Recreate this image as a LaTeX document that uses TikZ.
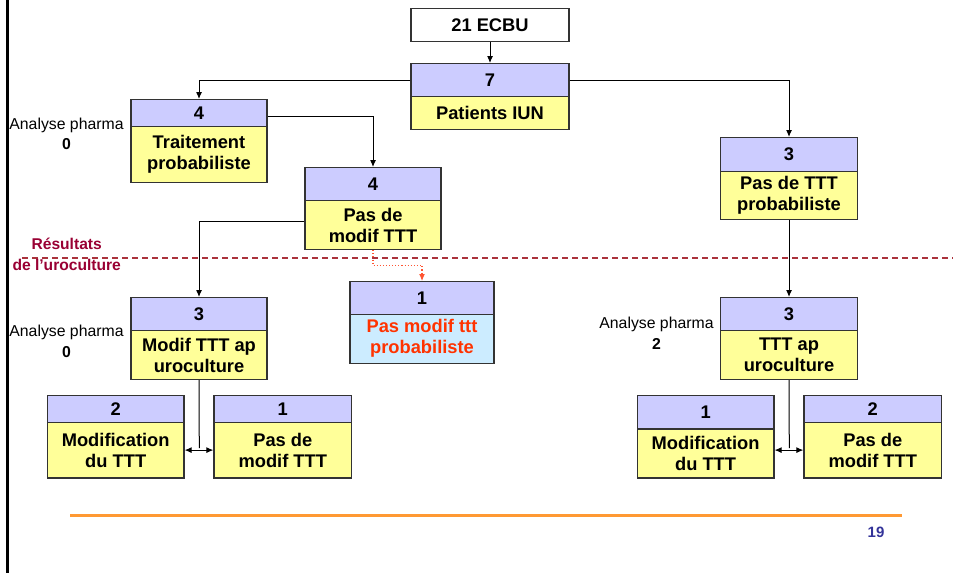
\documentclass[tikz,border=0pt]{standalone}
\usepackage{fontspec}
\setmainfont{Liberation Sans}
\usetikzlibrary{arrows.meta}
\definecolor{hdrblue}{HTML}{CCCCFF}
\definecolor{bodyyel}{HTML}{FFFF99}
\definecolor{bodyblue}{HTML}{CCECFF}
\definecolor{redtxt}{HTML}{FF3300}
\definecolor{dotred}{HTML}{FF5533}
\definecolor{sepred}{RGB}{170,50,60}
\definecolor{labred}{RGB}{153,0,51}
\definecolor{orangeline}{HTML}{FF9933}
\definecolor{pagenum}{HTML}{333399}
\definecolor{edge}{HTML}{333333}
\newcommand\twobox[9]{%
  \node[hdr, minimum width=#3pt, minimum height={(#5-#4)*1pt}, anchor=north] (#1h) at (#2,#4) {#7};
  \node[bdy, #9, minimum width=#3pt, minimum height={(#6-#5)*1pt}, anchor=north] (#1b) at (#2,#5) {#8};
}
\tikzset{
  boxbase/.style={draw=edge, line width=1.2pt, inner sep=0pt, align=center,
    font=\fontsize{18.3}{21}\selectfont\bfseries},
  hdr/.style={boxbase, fill=hdrblue},
  bdy/.style={boxbase},
  ylw/.style={fill=bodyyel},
  conn/.style={draw=black, line width=1pt, -{Latex[length=7pt,width=6pt]}},
  plainconn/.style={draw=black, line width=1pt},
  dblconn/.style={draw=black, line width=1pt, {Latex[length=7pt,width=6pt]}-{Latex[length=7pt,width=6pt]}},
  dotconn/.style={draw=dotred, line width=1.1pt, dotted, -{Latex[length=7pt,width=6pt]}},
  sidelab/.style={align=center, inner sep=0pt, font=\fontsize{15.8}{20.5}\selectfont},
}
\begin{document}
\begin{tikzpicture}[x=1pt,y=-1pt]
\useasboundingbox (0,0) rectangle (953,573);
% left border
\draw[line width=2.5pt] (7.5,0) -- (7.5,573);
% top box
\node[boxbase, fill=white, minimum width=158pt, minimum height=33pt, anchor=north] (ecbu) at (490,8) {21 ECBU};
% boxes
\twobox{bseven}{490}{158}{63}{96}{129}{7}{Patients IUN}{ylw}
\twobox{bfour}{199}{136}{99}{126}{181.5}{4}{Traitement\\probabiliste}{ylw}
\twobox{bfourb}{373}{136}{167}{200}{249}{4}{Pas de\\modif TTT}{ylw}
\twobox{bthreer}{789}{136.5}{137}{170.5}{219}{3}{Pas de TTT\\probabiliste}{ylw}
\twobox{bone}{422}{144}{281}{313.5}{362.5}{1}{Pas modif ttt\\probabiliste}{fill=bodyblue, text=redtxt}
\twobox{bthreel}{199}{136}{297}{330}{379}{3}{Modif TTT ap\\uroculture}{ylw}
\twobox{bthreerr}{789}{136.5}{297}{330}{379}{3}{TTT ap\\uroculture}{ylw}
\twobox{bltwo}{115.7}{136.7}{395}{421.7}{477.3}{2}{Modification\\du TTT}{ylw}
\twobox{blone}{282.8}{137.7}{395}{421.7}{477.3}{1}{Pas de\\modif TTT}{ylw}
\twobox{brone}{705.6}{136.7}{395}{428.3}{477.3}{1}{Modification\\du TTT}{ylw}
\twobox{brtwo}{872.8}{137.7}{395}{421.7}{477.3}{2}{Pas de\\modif TTT}{ylw}
% connectors
\draw[conn] (ecbu.south) -- (bsevenh.north);
\draw[conn] (bsevenh.west) -| (bfourh.north);
\draw[conn] (bsevenh.east) -| (bthreerh.north);
\draw[conn] ([yshift=-3pt]bfourh.east) -| (bfourbh.north);
\draw[conn] ([yshift=3.5pt]bfourbb.west) -| (bthreelh.north);
\draw[conn] (bthreerb.south) -- (bthreerrh.north);
\draw[dotconn] (bfourbb.south) -- ++(0,15) -| (boneh.north);
\coordinate (jl) at (199.3,448);
\coordinate (jr) at (789.3,448);
\draw[plainconn] (bthreelb.south) -- (jl);
\draw[plainconn] (bthreerrb.south) -- (jr);
\draw[dblconn] (bltwob.east) -- (bloneb.west);
\draw[dblconn] (brtwob.west -| broneb.east) -- (brtwob.west);
% separator
\draw[sepred, line width=1.6pt, dash pattern=on 6pt off 4pt] (22,257.7) -- (953,257.7);
\node[font=\fontsize{15.6}{21.7}\selectfont\bfseries, text=labred, align=center, inner sep=0pt] (reslab) at (66.7,254.5) {Résultats\\de l’uroculture};
% side labels
\node[sidelab] (apone) at (66.5,134) {Analyse pharma\\\textbf{0}};
\node[sidelab] (aptwo) at (66.5,341.5) {Analyse pharma\\\textbf{0}};
\node[sidelab] (apthree) at (656.5,333.5) {Analyse pharma\\\textbf{2}};
% footer
\draw[orangeline, line width=3pt] (70,515) -- (902,515);
\node[font=\fontsize{15}{18}\selectfont\bfseries, text=pagenum, inner sep=0pt] (pnum) at (876,532) {19};
\end{tikzpicture}
\end{document}
